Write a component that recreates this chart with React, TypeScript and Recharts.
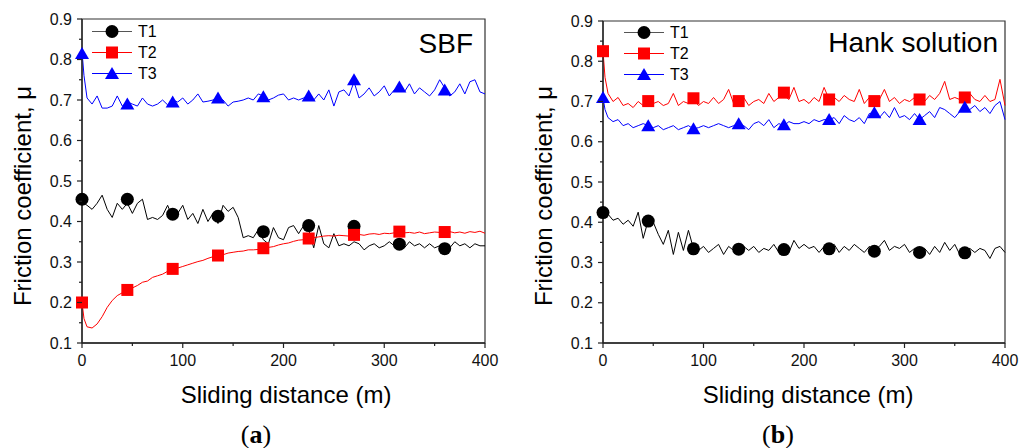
import React from 'react';
import { ComposedChart, Line, XAxis, YAxis, ReferenceArea } from 'recharts';

// sliding distance (m) of the sampled points, shared by every curve
const DISTANCE = [
  0, 2, 5, 10, 15, 20, 25, 30, 35, 40,
  45, 50, 55, 60, 65, 70, 75, 80, 85, 90,
  95, 100, 105, 110, 115, 120, 125, 130, 135, 140,
  145, 150, 155, 160, 165, 170, 175, 180, 185, 190,
  195, 200, 205, 210, 215, 220, 225, 230, 235, 240,
  245, 250, 255, 260, 265, 270, 275, 280, 285, 290,
  295, 300, 305, 310, 315, 320, 325, 330, 335, 340,
  345, 350, 355, 360, 365, 370, 375, 380, 385, 390,
  395, 400,
];

// distances where the symbols sit
const MARKER_DISTANCE = [0, 45, 90, 135, 180, 225, 270, 315, 360];

const X_TICKS = [0, 50, 100, 150, 200, 250, 300, 350, 400];
const Y_TICKS = [0.1, 0.15, 0.2, 0.25, 0.3, 0.35, 0.4, 0.45, 0.5, 0.55, 0.6, 0.65, 0.7, 0.75, 0.8, 0.85, 0.9];

// (a) SBF
const SBF_T1 = [
  0.45, 0.445, 0.44, 0.43, 0.445, 0.465, 0.43, 0.41, 0.445, 0.43,
  0.445, 0.42, 0.445, 0.455, 0.405, 0.41, 0.405, 0.415, 0.44, 0.41,
  0.42, 0.44, 0.405, 0.42, 0.395, 0.43, 0.4, 0.42, 0.395, 0.44,
  0.425, 0.435, 0.41, 0.36, 0.365, 0.36, 0.38, 0.355, 0.345, 0.385,
  0.36, 0.355, 0.385, 0.39, 0.37, 0.39, 0.38, 0.335, 0.39, 0.345,
  0.335, 0.37, 0.34, 0.345, 0.34, 0.35, 0.345, 0.33, 0.34, 0.345,
  0.335, 0.34, 0.35, 0.34, 0.345, 0.335, 0.35, 0.34, 0.345, 0.335,
  0.345, 0.335, 0.34, 0.345, 0.335, 0.35, 0.34, 0.345, 0.335, 0.345,
  0.34, 0.34,
];
const SBF_T2 = [
  0.2, 0.16, 0.14, 0.137, 0.147, 0.165, 0.188, 0.205, 0.217, 0.224,
  0.23, 0.236, 0.242, 0.25, 0.253, 0.262, 0.266, 0.27, 0.277, 0.282,
  0.285, 0.289, 0.293, 0.297, 0.301, 0.304, 0.309, 0.313, 0.316, 0.318,
  0.322, 0.324, 0.326, 0.327, 0.33, 0.33, 0.331, 0.333, 0.336, 0.338,
  0.342, 0.345, 0.347, 0.351, 0.354, 0.355, 0.358, 0.36, 0.362, 0.364,
  0.365, 0.364, 0.366, 0.365, 0.364, 0.367, 0.368, 0.366, 0.369, 0.37,
  0.368, 0.371, 0.37, 0.372, 0.374, 0.372, 0.373, 0.371, 0.374, 0.37,
  0.372, 0.374, 0.373, 0.373, 0.375, 0.372, 0.374, 0.371, 0.375, 0.373,
  0.376, 0.371,
];
const SBF_T3 = [
  0.82, 0.76, 0.705, 0.69, 0.71, 0.68, 0.68, 0.685, 0.71, 0.685,
  0.695, 0.69, 0.685, 0.705, 0.69, 0.685, 0.69, 0.7, 0.688, 0.7,
  0.695, 0.705, 0.69, 0.7, 0.715, 0.695, 0.697, 0.7, 0.705, 0.7,
  0.685, 0.695, 0.697, 0.7, 0.705, 0.7, 0.715, 0.71, 0.7, 0.705,
  0.712, 0.715, 0.7, 0.705, 0.7, 0.705, 0.71, 0.7, 0.715, 0.7,
  0.725, 0.685, 0.72, 0.725, 0.71, 0.745, 0.705, 0.715, 0.73, 0.71,
  0.72, 0.735, 0.71, 0.725, 0.735, 0.72, 0.74, 0.715, 0.73, 0.72,
  0.71, 0.725, 0.75, 0.73, 0.71, 0.72, 0.74, 0.715, 0.745, 0.75,
  0.72, 0.715,
];
const SBF_T1_MARKS = [0.455, 0.455, 0.418, 0.413, 0.375, 0.39, 0.388, 0.344, 0.333];
const SBF_T2_MARKS = [0.2, 0.231, 0.283, 0.316, 0.334, 0.358, 0.367, 0.375, 0.374];
const SBF_T3_MARKS = [0.815, 0.69, 0.695, 0.705, 0.708, 0.71, 0.75, 0.732, 0.725];

// (b) Hank solution
const HANK_T1 = [
  0.425, 0.415, 0.42, 0.405, 0.41, 0.395, 0.405, 0.39, 0.425, 0.36,
  0.405, 0.4, 0.37, 0.345, 0.38, 0.32, 0.375, 0.33, 0.38, 0.335,
  0.33, 0.34, 0.325, 0.335, 0.345, 0.32, 0.34, 0.33, 0.335, 0.34,
  0.33, 0.34, 0.325, 0.335, 0.33, 0.345, 0.325, 0.335, 0.325, 0.355,
  0.335, 0.345, 0.335, 0.34, 0.325, 0.34, 0.335, 0.345, 0.325, 0.34,
  0.33, 0.345, 0.335, 0.325, 0.34, 0.33, 0.34, 0.355, 0.33, 0.34,
  0.335, 0.345, 0.325, 0.335, 0.33, 0.335, 0.32, 0.34, 0.325, 0.35,
  0.33, 0.345, 0.32, 0.33, 0.335, 0.325, 0.335, 0.33, 0.31, 0.335,
  0.34, 0.325,
];
const HANK_T2 = [
  0.825, 0.76, 0.72, 0.7, 0.71, 0.69, 0.695, 0.685, 0.7, 0.69,
  0.69, 0.695, 0.7, 0.69, 0.695, 0.72, 0.69, 0.7, 0.695, 0.705,
  0.69, 0.7, 0.695, 0.71, 0.695, 0.705, 0.73, 0.695, 0.7, 0.71,
  0.69, 0.7, 0.705, 0.695, 0.72, 0.7, 0.71, 0.715, 0.705, 0.735,
  0.7, 0.705, 0.695, 0.71, 0.7, 0.735, 0.705, 0.71, 0.7, 0.715,
  0.705, 0.7, 0.73, 0.695, 0.71, 0.7, 0.705, 0.73, 0.7, 0.71,
  0.695, 0.705, 0.7, 0.71, 0.705, 0.7, 0.715, 0.705, 0.72, 0.75,
  0.705, 0.71, 0.705, 0.71, 0.72, 0.705, 0.7, 0.715, 0.7, 0.705,
  0.755, 0.69,
];
const HANK_T3 = [
  0.71, 0.68, 0.66, 0.65, 0.655, 0.64, 0.645, 0.635, 0.64, 0.645,
  0.64, 0.635, 0.64, 0.63, 0.635, 0.64, 0.63, 0.635, 0.64, 0.632,
  0.635, 0.64, 0.635, 0.64, 0.645, 0.64, 0.635, 0.64, 0.645, 0.64,
  0.63, 0.645, 0.65, 0.64, 0.655, 0.635, 0.645, 0.64, 0.65, 0.645,
  0.645, 0.65, 0.645, 0.655, 0.65, 0.655, 0.655, 0.66, 0.645, 0.665,
  0.655, 0.65, 0.66, 0.645, 0.67, 0.672, 0.66, 0.675, 0.66, 0.685,
  0.66, 0.665, 0.655, 0.67, 0.655, 0.665, 0.675, 0.66, 0.685, 0.68,
  0.67, 0.66, 0.675, 0.685, 0.68, 0.69, 0.675, 0.685, 0.67, 0.69,
  0.7, 0.655,
];
const HANK_T1_MARKS = [0.424, 0.403, 0.334, 0.333, 0.332, 0.334, 0.328, 0.325, 0.324];
const HANK_T2_MARKS = [0.825, 0.701, 0.708, 0.701, 0.722, 0.705, 0.701, 0.705, 0.71];
const HANK_T3_MARKS = [0.71, 0.64, 0.632, 0.645, 0.642, 0.655, 0.672, 0.655, 0.686];

const FONT = '"Liberation Sans", Arial, sans-serif';
const SERIF = '"Liberation Serif", "Times New Roman", serif';

const SERIES = [
  { key: 't1', mark: 'm1', name: 'T1', color: '#000000', legendLine: '#555555', shape: 'circle' },
  { key: 't2', mark: 'm2', name: 'T2', color: '#ff0000', legendLine: '#ff0000', shape: 'square' },
  { key: 't3', mark: 'm3', name: 'T3', color: '#0000ff', legendLine: '#0000ff', shape: 'triangle' },
];

const Marker = ({ cx, cy, shape, color }: any) => {
  if (cx == null || cy == null) return null;
  if (shape === 'circle') return <circle cx={cx} cy={cy} r={6.5} fill={color} />;
  if (shape === 'square') return <rect x={cx - 6} y={cy - 6} width={12} height={12} fill={color} />;
  return <polygon points={`${cx},${cy - 6.5} ${cx + 7},${cy + 5.5} ${cx - 7},${cy + 5.5}`} fill={color} />;
};

const XTick = ({ x, y, payload }: any) => {
  const major = payload.value % 100 === 0;
  return (
    <g>
      <line x1={x} x2={x} y1={y} y2={y + (major ? 5 : 3)} stroke="#222" strokeWidth={1.2} />
      {major && (
        <text x={x} y={y + 23} textAnchor="middle" fontFamily={FONT} fontSize={16} fill="#111">
          {payload.value}
        </text>
      )}
    </g>
  );
};

const YTick = ({ x, y, payload }: any) => {
  const major = Math.round(payload.value * 100) % 10 === 0;
  return (
    <g>
      <line x1={x - (major ? 5 : 3)} x2={x} y1={y} y2={y} stroke="#222" strokeWidth={1.2} />
      {major && (
        <text x={x - 10} y={y + 5.5} textAnchor="end" fontFamily={FONT} fontSize={16} fill="#111">
          {payload.value.toFixed(1)}
        </text>
      )}
    </g>
  );
};

// legend drawn as an overlay so it doesn't shrink the plot area
const LegendBox = ({ left, top }: any) => (
  <div style={{ position: 'absolute', left, top, fontFamily: FONT, fontSize: 16, color: '#000' }}>
    {SERIES.map((s) => (
      <div key={s.name} style={{ display: 'flex', alignItems: 'center', height: 21 }}>
        <svg width={40} height={21}>
          <line x1={0} x2={40} y1={10.5} y2={10.5} stroke={s.legendLine} strokeWidth={1} />
          <Marker cx={20} cy={10.5} shape={s.shape} color={s.color} />
        </svg>
        <span style={{ marginLeft: 6, lineHeight: '21px' }}>{s.name}</span>
      </div>
    ))}
  </div>
);

const buildRows = (lines: number[][], marks: number[][]) =>
  DISTANCE.map((x, i) => {
    const m = MARKER_DISTANCE.indexOf(x);
    return {
      x,
      t1: lines[0][i],
      t2: lines[1][i],
      t3: lines[2][i],
      m1: m >= 0 ? marks[0][m] : null,
      m2: m >= 0 ? marks[1][m] : null,
      m3: m >= 0 ? marks[2][m] : null,
    };
  });

const FrictionPanel = ({ rows, title, caption, layout }: any) => (
  <div style={{ position: 'absolute', left: layout.left, top: 0, width: 512, height: 448 }}>
    <ComposedChart
      width={512}
      height={448}
      data={rows}
      margin={{ top: layout.top, right: layout.right, bottom: 75, left: 0 }}
    >
      <XAxis
        dataKey="x"
        type="number"
        domain={[0, 400]}
        ticks={X_TICKS}
        interval={0}
        height={30}
        tickSize={0}
        tickMargin={0}
        tickLine={false}
        tick={<XTick />}
        axisLine={{ stroke: '#222', strokeWidth: 1.3 }}
      />
      <YAxis
        type="number"
        domain={[0.1, 0.9]}
        ticks={Y_TICKS}
        interval={0}
        width={layout.yWidth}
        tickSize={0}
        tickMargin={0}
        tickLine={false}
        tick={<YTick />}
        axisLine={{ stroke: '#222', strokeWidth: 1.3 }}
      />
      <ReferenceArea x1={0} x2={400} y1={0.1} y2={0.9} fill="none" stroke="#333" strokeWidth={1.2} />
      {SERIES.flatMap((s) => [
        <Line
          key={s.key}
          dataKey={s.key}
          type="linear"
          stroke={s.color}
          strokeWidth={1}
          dot={false}
          activeDot={false}
          isAnimationActive={false}
        />,
        <Line
          key={s.mark}
          dataKey={s.mark}
          stroke="none"
          dot={(p: any) =>
            p.value == null ? <g key={p.index} /> : <Marker key={p.index} cx={p.cx} cy={p.cy} shape={s.shape} color={s.color} />
          }
          activeDot={false}
          isAnimationActive={false}
        />,
      ])}
    </ComposedChart>
    <LegendBox left={layout.legendLeft} top={layout.legendTop} />
    <svg width={512} height={448} style={{ position: 'absolute', left: 0, top: 0, pointerEvents: 'none' }}>
      <text x={layout.titleRight} y={layout.titleBaseline} textAnchor="end" fontFamily={FONT} fontSize={28} fill="#000">
        {title}
      </text>
      <text
        x={layout.yTitleX}
        y={196}
        textAnchor="middle"
        fontFamily={FONT}
        fontSize={24}
        fill="#000"
        transform={`rotate(-90 ${layout.yTitleX} 196)`}
      >
        Friction coefficient, μ
      </text>
      <text x={layout.xTitleX} y={403} textAnchor="middle" fontFamily={FONT} fontSize={24} fill="#000">
        Sliding distance (m)
      </text>
      <text x={layout.captionX} y={443} textAnchor="middle" fontFamily={SERIF} fontSize={26} fill="#000">
        (<tspan fontWeight="bold">{caption}</tspan>)
      </text>
    </svg>
  </div>
);

const LEFT_LAYOUT = {
  left: 0, top: 19, right: 27, yWidth: 82,
  legendLeft: 92, legendTop: 21, titleRight: 473, titleBaseline: 53,
  yTitleX: 31, xTitleX: 286, captionX: 256,
};
const RIGHT_LAYOUT = {
  left: 511, top: 21, right: 18, yWidth: 92,
  legendLeft: 113, legendTop: 22, titleRight: 487, titleBaseline: 52,
  yTitleX: 41, xTitleX: 297, captionX: 267,
};

export default function App() {
  const sbfRows = buildRows([SBF_T1, SBF_T2, SBF_T3], [SBF_T1_MARKS, SBF_T2_MARKS, SBF_T3_MARKS]);
  const hankRows = buildRows([HANK_T1, HANK_T2, HANK_T3], [HANK_T1_MARKS, HANK_T2_MARKS, HANK_T3_MARKS]);
  return (
    <div style={{ position: 'absolute', left: 0, top: 0, width: 1023, height: 448, background: '#fff', overflow: 'hidden' }}>
      <FrictionPanel rows={sbfRows} title="SBF" caption="a" layout={LEFT_LAYOUT} />
      <FrictionPanel rows={hankRows} title="Hank solution" caption="b" layout={RIGHT_LAYOUT} />
    </div>
  );
}
